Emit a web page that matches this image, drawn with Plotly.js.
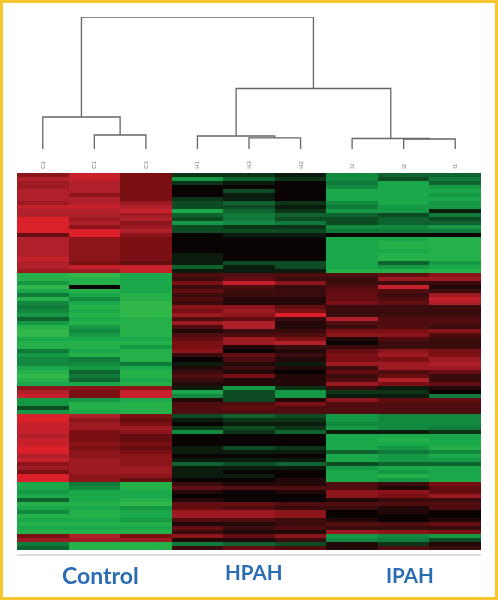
<!DOCTYPE html>
<html><head><meta charset="utf-8">
<script src="https://cdn.plot.ly/plotly-3.0.1.min.js"></script>
<style>html,body{margin:0;padding:0;background:#fff}#c{width:498px;height:600px;filter:blur(0.4px)}</style>
</head><body><div id="c"></div>
<script>
const samples=['C2','C1','C3','H1','H3','H2','I3','I2','I1'];
const groupNames=['Control','HPAH','IPAH'];
const groupCenters=[1.12,4.08,7.12];
const cluster1=[
[6,9,5,-2,-2,-1,-6,-4,-4],[8,9,5,-7,-4,-2,-6,-3,-5],[7,8,5,-2,-1,0,-5,-8,-4],[7,8,5,0,0,0,-6,-8,-7],
[8,8,5,0,-3,0,-8,-8,-8],[8,6,5,0,-1,0,-8,-8,-7],[8,8,5,-2,-1,0,-8,-8,-8],[7,8,7,-3,-4,-2,-6,-8,-7],
[9,9,8,-3,-3,-1,-5,-7,-7],[8,8,9,-8,-4,-2,-7,-7,-1],[8,8,7,-4,-5,-4,-4,-3,-5],[10,7,8,-3,-5,-3,-3,-4,-3],
[10,8,6,-7,-6,-5,-3,-4,-4],[10,6,7,-3,-2,-2,-6,-6,-7],[10,10,8,-3,-3,-3,-5,-5,-5],[4,10,6,0,-1,-1,0,0,0],
[8,6,5,0,0,0,-8,-8,-9],[8,6,5,0,0,0,-8,-9,-9],[8,6,5,0,0,0,-8,-9,-9],[8,6,5,0,0,0,-8,-8,-9],
[8,6,5,-1,0,0,-8,-9,-9],[9,6,5,-1,0,0,-8,-9,-9],[8,5,4,-1,-3,-3,-8,-4,-7],[8,9,9,-4,-1,-3,-8,-7,-8],[7,7,9,-1,-1,-1,-9,-9,-9]];
const cluster2=[
[-9,-10,-8,3,3,3,3,4,6],[-9,-9,-8,2,4,2,2,7,7],[-7,-9,-8,5,9,6,2,2,2],[-10,0,-8,2,3,2,3,9,1],
[-8,-9,-8,4,2,2,4,3,2],[-5,-8,-9,2,2,2,4,2,7],[-9,-6,-9,3,1,1,4,3,9],[-6,-8,-10,2,1,1,5,4,8],
[-5,-9,-10,6,6,4,2,2,2],[-6,-8,-10,5,7,5,2,2,2],[-7,-9,-10,7,6,10,2,2,2],[-4,-8,-9,3,4,2,8,3,3],
[-7,-9,-9,7,8,1,3,3,3],[-9,-7,-9,3,8,1,2,3,2],[-10,-6,-9,1,2,2,5,5,6],[-10,-7,-9,3,3,3,6,6,3],
[-8,-8,-8,4,7,5,1,3,2],[-9,-9,-9,5,7,8,0,2,2],[-9,-9,-7,5,1,2,2,2,2],[-5,-8,-9,6,0,1,4,6,5],
[-7,-9,-9,2,4,2,5,7,5],[-6,-5,-9,0,3,1,5,5,7],[-6,-6,-5,-1,1,-1,7,7,8],[-8,-7,-8,1,2,1,2,7,7],
[-9,-4,-9,2,1,0,4,3,4],[-10,-5,-9,3,5,1,2,4,2],[-9,-4,-8,2,1,1,3,8,2],[-8,-8,-9,1,1,1,7,5,4]];
const cluster3=[[6,6,6,-1,-7,-2,2,-1,1],[8,5,9,-8,-3,-7,-2,-2,0],[9,5,9,-6,-3,-7,-1,-1,-5]];
const cluster4=[[-7,-7,-8,1,-3,1,6,4,4],[-7,-9,-9,3,3,5,3,3,3],[-3,-9,-9,3,4,3,3,3,3],[-7,-8,-9,3,3,3,3,3,3]];
const cluster5=[
[10,8,5,-3,-4,-3,-7,-6,-6],[10,6,4,-1,-2,-2,-7,-6,-6],[9,7,5,0,-1,-1,-6,-6,-6],[9,7,7,-2,-3,-2,-7,-6,-5],
[9,5,6,-6,-2,-4,-1,-1,-2],[8,5,4,0,0,0,-8,-8,-8],[9,5,4,0,0,0,-8,-9,-8],[9,6,5,0,0,0,-8,-8,-8],
[10,5,4,-1,-3,-2,-8,-7,-9],[10,6,5,-1,-1,-1,-4,-5,-6],[8,6,6,0,0,0,-8,-7,-8],[9,7,6,-1,-1,-1,-8,-7,-7],
[6,7,6,-4,-3,-4,-3,-4,-4],[7,7,7,-1,-1,-1,-7,-8,-8],[5,7,7,-1,0,0,-8,-7,-8],[10,6,6,-1,-1,0,-8,-9,-8],[10,6,4,0,0,1,-8,-7,-8]];
const cluster6=[
[-8,-5,-9,2,1,1,3,2,5],[-8,-6,-9,4,3,3,3,1,4],[-7,-8,-8,1,0,1,6,6,4],[-8,-8,-8,0,0,0,6,5,7],
[-4,-8,-9,1,0,0,1,2,2],[-9,-9,-10,4,4,3,3,3,3],[-8,-8,-7,4,3,2,2,1,3],[-6,-9,-8,7,7,6,0,1,0],
[-9,-9,-8,7,7,6,0,0,0],[-8,-8,-7,3,3,2,1,0,1],[-9,-9,-9,1,1,2,3,3,4],[-8,-8,-8,4,2,3,2,2,2],[-9,-9,-9,2,1,1,7,6,5]];
const cluster7=[[5,8,5,6,4,6,-7,-6,-7],[7,7,7,1,1,2,-6,-5,-3],[-5,-9,-9,-5,-4,-3,1,-2,1],[-4,-9,-9,2,4,3,1,3,2]];
const z=[].concat(cluster1,cluster2,cluster3,cluster4,cluster5,cluster6,cluster7);

// dendrogram merges: [left node, right node, height]; leaves are 0-8, merged nodes continue from 9
const merges=[[1,2,14],[0,9,32],[4,5,11.2],[3,11,13],[7,8,10],[6,13,10.5],[12,14,60.5],[10,15,132]];
const nodeX=samples.map((s,i)=>i), nodeH=samples.map(()=>0);
const dx=[],dy=[];
merges.forEach(m=>{
  const a=m[0],b=m[1],h=m[2];
  dx.push(nodeX[a],nodeX[a],nodeX[b],nodeX[b],null);
  dy.push(nodeH[a],h,h,nodeH[b],null);
  nodeX.push((nodeX[a]+nodeX[b])/2); nodeH.push(h);
});

const colorscale=[[0,'#32b84a'],[0.1,'#1aa84a'],[0.25,'#0f7a3a'],[0.4,'#0c3518'],[0.5,'#090303'],[0.6,'#3a0c0e'],[0.75,'#7a0f14'],[0.9,'#b0202a'],[1,'#db2029']];
const traces=[
 {type:'heatmap',z:z,x:samples.map((s,i)=>i),zmin:-10,zmax:10,colorscale:colorscale,showscale:false,hoverinfo:'skip'},
 {type:'scatter',mode:'lines',x:dx,y:dy,yaxis:'y2',line:{color:'#666',width:1.3},hoverinfo:'skip',showlegend:false}
];
const W=498,H=600,L=17,R=481,T=173,B=550;
const px=v=>(v-L)/(R-L), py=v=>(H-v)/H;
const layout={
 width:W,height:H,margin:{l:L,r:W-R,t:0,b:0},paper_bgcolor:'#fff',plot_bgcolor:'#fff',showlegend:false,
 xaxis:{range:[-0.5,8.5],side:'top',anchor:'y',tickmode:'array',tickvals:samples.map((s,i)=>i),ticktext:samples,tickangle:-90,
   tickfont:{size:6,color:'#777',family:'Liberation Sans'},ticks:'outside',ticklen:2,tickcolor:'rgba(0,0,0,0)',showgrid:false,zeroline:false,showline:false},
 yaxis:{domain:[py(B),py(T)],range:[z.length-0.5,-0.5],showticklabels:false,ticks:'',showgrid:false,zeroline:false,showline:false},
 yaxis2:{domain:[py(149),py(17)],range:[0,132],anchor:'x',showticklabels:false,ticks:'',showgrid:false,zeroline:false,showline:false},
 annotations:groupNames.map((t,i)=>({text:t,x:groupCenters[i],xref:'x',yref:'paper',y:py([575,572,575][i]),xanchor:'center',yanchor:'middle',showarrow:false,
   font:{family:'Lato',size:[23,20.5,20.5][i],weight:700,color:'#2a6db3'}})),
 shapes:[
  {type:'rect',xref:'paper',yref:'paper',x0:px(1.5),x1:px(496.5),y0:py(598.5),y1:py(1.5),line:{color:'#f7c52e',width:3},fillcolor:'rgba(0,0,0,0)'},
  {type:'line',xref:'paper',yref:'paper',x0:0,x1:1,y0:py(555),y1:py(555),line:{color:'#dcdcdc',width:2}}
 ]
};
Plotly.newPlot('c',traces,layout,{displayModeBar:false,staticPlot:true});
</script></body></html>
